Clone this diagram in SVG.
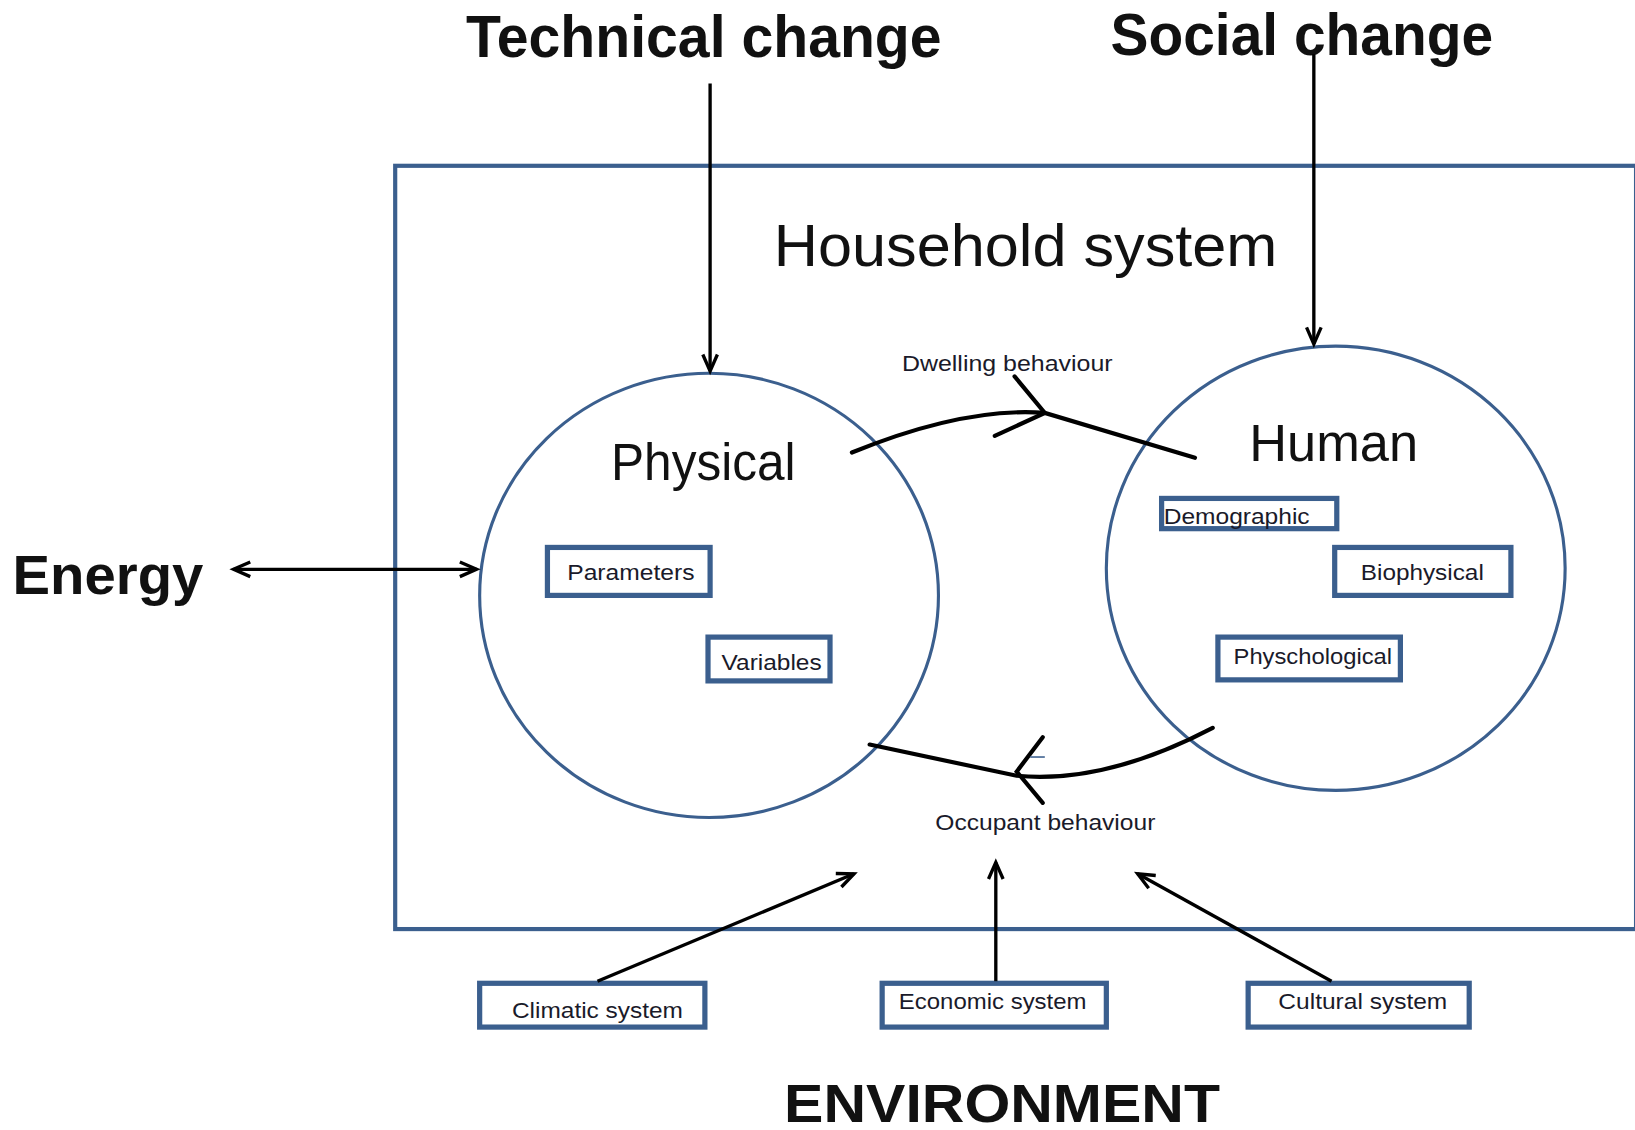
<svg xmlns="http://www.w3.org/2000/svg" width="1635" height="1130" viewBox="0 0 1635 1130">
<style>
.big{font-family:"Liberation Sans",Arial,sans-serif;font-weight:bold;fill:#111}
.mid{font-family:"Liberation Sans",Arial,sans-serif;fill:#111}
.sm{font-family:"Liberation Sans",Arial,sans-serif;font-size:22px;fill:#1a1a2a}
.blue{fill:none;stroke:#3b5f8e}
.box{fill:#fff;stroke:#3b5f8e;stroke-width:5}
.ln{fill:none;stroke:#000;stroke-width:3.2}
.cv{fill:none;stroke:#000;stroke-width:4;stroke-linecap:round}
</style>
<defs>
<marker id="ah" markerUnits="userSpaceOnUse" markerWidth="24" markerHeight="24" refX="17" refY="8" orient="auto-start-reverse" viewBox="0 0 24 16">
<path d="M1,1 L17,8 L1,15" fill="none" stroke="#000" stroke-width="3.2"/>
</marker>
</defs>
<rect width="1635" height="1130" fill="#fff"/>
<g transform="scale(1.04273)">
<g id="household">
<rect x="379" y="159" width="1190" height="732" class="blue" stroke-width="4"/>
<text x="742" y="255" class="mid" font-size="57" textLength="483" lengthAdjust="spacingAndGlyphs">Household system</text>
</g>
<g id="physical">
<ellipse cx="680" cy="571" rx="220" ry="213" class="blue" stroke-width="3"/>
<text x="586" y="460" class="mid" font-size="50" textLength="177" lengthAdjust="spacingAndGlyphs">Physical</text>
</g>
<g id="human">
<ellipse cx="1281" cy="545" rx="220" ry="213" class="blue" stroke-width="3"/>
<text x="1198" y="442" class="mid" font-size="50" textLength="162" lengthAdjust="spacingAndGlyphs">Human</text>
</g>
<g id="parameters"><rect x="525" y="525" width="156" height="46" class="box"/><text x="544" y="556" class="sm" textLength="122" lengthAdjust="spacingAndGlyphs">Parameters</text></g>
<g id="variables"><rect x="679" y="611" width="117" height="42" class="box"/><text x="692" y="643" class="sm" textLength="96" lengthAdjust="spacingAndGlyphs">Variables</text></g>
<g id="demographic"><rect x="1114" y="478" width="168" height="29" class="box"/><text x="1116" y="503" class="sm" textLength="140" lengthAdjust="spacingAndGlyphs">Demographic</text></g>
<g id="biophysical"><rect x="1280" y="525" width="169" height="46" class="box"/><text x="1305" y="556" class="sm" textLength="118" lengthAdjust="spacingAndGlyphs">Biophysical</text></g>
<g id="physchological"><rect x="1168" y="611" width="175" height="41" class="box"/><text x="1183" y="637" class="sm" textLength="152" lengthAdjust="spacingAndGlyphs">Physchological</text></g>
<g id="climatic"><rect x="460" y="943" width="216" height="42" class="box"/><text x="491" y="976" class="sm" textLength="164" lengthAdjust="spacingAndGlyphs">Climatic system</text></g>
<g id="economic"><rect x="846" y="943" width="215" height="42" class="box"/><text x="862" y="968" class="sm" textLength="180" lengthAdjust="spacingAndGlyphs">Economic system</text></g>
<g id="cultural"><rect x="1197" y="943" width="212" height="42" class="box"/><text x="1226" y="968" class="sm" textLength="162" lengthAdjust="spacingAndGlyphs">Cultural system</text></g>
<g id="technical"><text x="447" y="55" class="big" font-size="56" textLength="456" lengthAdjust="spacingAndGlyphs">Technical change</text></g>
<g id="social"><text x="1065" y="53" class="big" font-size="56" textLength="367" lengthAdjust="spacingAndGlyphs">Social change</text></g>
<g id="energy"><text x="12" y="570" class="big" font-size="53" textLength="183" lengthAdjust="spacingAndGlyphs">Energy</text></g>
<g id="environment"><text x="752" y="1076" class="big" font-size="52" textLength="418" lengthAdjust="spacingAndGlyphs">ENVIRONMENT</text></g>
<g id="connectors">
<line x1="681" y1="80" x2="681" y2="356" class="ln" marker-end="url(#ah)"/>
<line x1="1260" y1="52" x2="1260" y2="330" class="ln" marker-end="url(#ah)"/>
<line x1="224" y1="546" x2="457" y2="546" class="ln" marker-start="url(#ah)" marker-end="url(#ah)"/>
<line x1="573" y1="941" x2="819" y2="838" class="ln" marker-end="url(#ah)"/>
<line x1="955" y1="941" x2="955" y2="827" class="ln" marker-end="url(#ah)"/>
<line x1="1277" y1="941" x2="1091" y2="838" class="ln" marker-end="url(#ah)"/>
<path d="M817,434 Q925,390 1002,396 L1146,439" class="cv"/>
<path d="M973,361 L1002,396 L954,418" class="cv" stroke-width="3.5"/>
<path d="M1163,698 Q1060,752 975,744 L834,714" class="cv"/>
<path d="M1000,707 L975,740 L1000,770" class="cv" stroke-width="3.5"/>
<line x1="988" y1="726" x2="1002" y2="726" stroke="#3b5f8e" stroke-width="1.5"/>
<text x="865" y="356" class="sm" textLength="202" lengthAdjust="spacingAndGlyphs">Dwelling behaviour</text>
<text x="897" y="796" class="sm" textLength="211" lengthAdjust="spacingAndGlyphs">Occupant behaviour</text>
</g>
</g>
</svg>
